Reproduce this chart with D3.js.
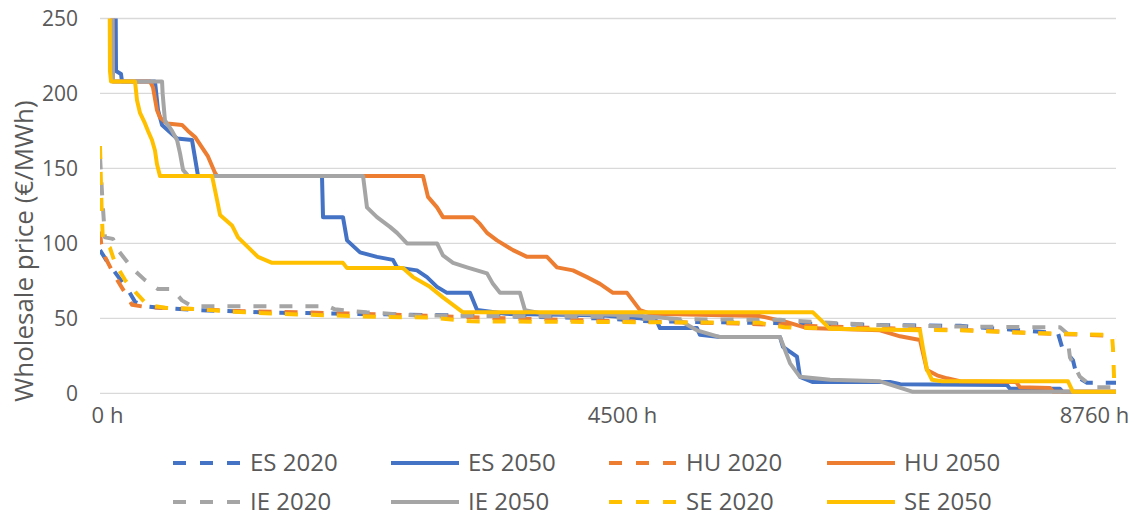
<!DOCTYPE html>
<html>
<head>
<meta charset="utf-8">
<script src="https://cdn.jsdelivr.net/npm/d3@7"></script>
<style>
  html, body { margin: 0; padding: 0; background: #fff; }
  svg { display: block; font-family: "Open Sans", sans-serif; }
</style>
</head>
<body>
<svg id="chart" width="1135" height="517"></svg>
<script>
// Price duration curves: hours of the year (sorted) vs wholesale price (€/MWh)
const seriesNames = ["ES 2020", "ES 2050", "HU 2020", "HU 2050", "IE 2020", "IE 2050", "SE 2020", "SE 2050"];
const seriesColors = ["#4472C4", "#4472C4", "#ED7D31", "#ED7D31", "#A5A5A5", "#A5A5A5", "#FFC000", "#FFC000"];
const seriesDashed = [true, false, true, false, true, false, true, false];
const yTicks = [0, 50, 100, 150, 200, 250];
const xTicks = [0, 4500, 8760];
const xTickLabels = ["0 h", "4500 h", "8760 h"];

const es2020 = [[0,95.5],[69,87],[155,78],[241,69],[302,61],[388,58],[517,57],[862,55.5],[1380,54],[2155,53],[3449,51.5],[4311,50],[4742,48],[5691,47],[6725,45.5],[7415,45],[8105,41],[8260,40],[8294,31],[8389,22],[8424,11],[8510,7],[8760,7]];
const es2050 = [[0,330],[130,330],[138,215],[181,213],[190,208],[474,208],[500,189],[535,179],[664,170],[793,169],[845,145],[1914,145],[1923,117.5],[2095,117.5],[2130,102],[2242,94],[2388,91],[2526,89],[2561,84],[2733,82],[2819,77.5],[2906,71],[2992,67],[3190,67],[3251,55.5],[3500,53],[4311,52],[4656,50],[4802,48],[4828,43.5],[5147,43.5],[5173,39],[5346,37.5],[5863,37.5],[5889,31],[6009,24.5],[6035,11],[6147,7.5],[6811,7.5],[6900,6],[7820,5.5],[7846,3],[8277,3],[8300,1],[8760,1]];
const hu2020 = [[0,108],[10,100],[43,91],[129,78],[216,67],[276,59],[400,57.5],[862,56],[1121,55],[1724,54],[2500,52.5],[3500,50],[4500,48],[5500,46.5],[6500,44],[7500,42],[8105,40],[8683,38.5],[8760,37]];
const hu2050 = [[0,330],[100,330],[112,208],[431,208],[457,204],[491,189],[517,184],[578,180],[707,179],[759,175],[819,171],[879,164],[931,158],[992,147],[1009,145],[2785,145],[2828,131],[2906,124],[2957,117.5],[3216,117.5],[3276,113],[3337,107],[3423,102],[3561,95.5],[3682,91],[3854,91],[3940,84],[4078,82],[4199,77.5],[4311,73],[4423,67],[4544,67],[4656,55.5],[4750,53],[5691,51.5],[5923,47.5],[6096,43.5],[6725,42],[6898,38],[7070,35.5],[7130,15.5],[7217,12],[7303,10],[7415,8],[7900,7.5],[7932,4],[8191,3.5],[8220,1],[8760,1]];
const ie2020 = [[0,158],[20,130],[43,104],[112,103],[155,95.5],[276,83.5],[388,75.5],[500,69.5],[621,69.5],[707,62],[793,58],[1966,58],[2026,56],[2300,54],[2700,52],[4311,51],[4742,49.5],[5863,49],[6294,47],[6725,45.5],[7415,44.5],[8277,44],[8337,40],[8363,24],[8449,11],[8562,4],[8760,4]];
const ie2050 = [[0,330],[100,330],[112,208],[535,208],[540,200],[560,182],[621,175],[664,169],[690,160],[716,149],[760,145],[2268,145],[2302,124],[2388,117.5],[2500,111],[2561,107],[2647,100],[2906,100],[2957,92],[3044,87],[3164,84],[3337,80],[3388,73],[3449,67],[3621,67],[3664,55.5],[3800,53.5],[4600,52],[4975,49.5],[5147,42],[5346,37.5],[5863,37.5],[5950,20],[6035,11],[6294,9],[6725,8],[7010,1],[8760,1]];
const se2020 = [[0,165],[15,120],[25,102],[86,97],[129,87],[216,75.5],[276,70],[371,62],[405,59],[560,57],[862,56],[1121,54.5],[1552,53],[1966,52],[2400,51],[2850,50.5],[3200,48],[4500,47.5],[5691,47],[5900,44],[6500,43],[7415,42],[8105,40],[8725,39],[8734,30],[8745,7],[8760,6]];
const se2050 = [[0,330],[80,330],[86,215],[95,208],[302,208],[319,195.5],[345,187],[388,180],[414,175],[448,169],[474,162],[491,153],[517,145],[966,145],[1009,129],[1035,119],[1138,112],[1190,104],[1276,97.5],[1362,91],[1483,87],[2095,87],[2130,83.5],[2612,83.5],[2699,77.5],[2845,71],[2957,64],[3130,54],[6147,54],[6294,43],[7070,42],[7096,30],[7130,16],[7174,9],[7260,8],[8346,8],[8389,1],[8760,1]];

const seriesData = [es2020, es2050, hu2020, hu2050, ie2020, ie2050, se2020, se2050];

const svg = d3.select("#chart");
const plot = { left: 100, right: 1116, top: 18.5, bottom: 393.3 };
const textColor = "#595959";

const x = d3.scaleLinear().domain([0, 8760]).range([plot.left, plot.right]);
const y = d3.scaleLinear().domain([0, 250]).range([plot.bottom, plot.top]);

// horizontal gridlines
svg.append("g")
  .selectAll("line")
  .data(yTicks)
  .join("line")
  .attr("x1", plot.left).attr("x2", plot.right)
  .attr("y1", d => y(d)).attr("y2", d => y(d))
  .attr("stroke", "#D9D9D9").attr("stroke-width", 1.3);

// y axis labels
const yAxis = svg.append("g")
  .attr("transform", `translate(${plot.left - 22},0)`)
  .call(d3.axisLeft(y).tickValues(yTicks).tickSize(0).tickPadding(0));
yAxis.select(".domain").remove();
yAxis.selectAll("text")
  .attr("fill", textColor)
  .style("font-family", "'Open Sans', sans-serif")
  .style("font-size", "21px");

// x axis labels
const xAxis = svg.append("g")
  .attr("transform", `translate(0,${plot.bottom})`)
  .call(d3.axisBottom(x).tickValues(xTicks).tickFormat((d, i) => xTickLabels[i]).tickSize(0).tickPadding(14));
xAxis.select(".domain").remove();
xAxis.selectAll("text")
  .attr("fill", textColor)
  .style("font-family", "'Open Sans', sans-serif")
  .style("font-size", "22px")
  .attr("dx", (d, i) => i === 0 ? 7 : (i === xTicks.length - 1 ? -22 : 0));

// y axis title
svg.append("text")
  .attr("transform", "translate(33,251) rotate(-90)")
  .attr("text-anchor", "middle")
  .attr("fill", textColor)
  .style("font-size", "26px")
  .text("Wholesale price (€/MWh)");

// clip to plot area
svg.append("defs").append("clipPath").attr("id", "plot-clip")
  .append("rect")
  .attr("x", plot.left).attr("y", plot.top)
  .attr("width", plot.right - plot.left + 4)
  .attr("height", plot.bottom - plot.top + 4);

const line = d3.line().x(d => x(d[0])).y(d => y(d[1]));

svg.append("g")
  .attr("clip-path", "url(#plot-clip)")
  .selectAll("path")
  .data(seriesData)
  .join("path")
  .attr("d", line)
  .attr("fill", "none")
  .attr("stroke", (d, i) => seriesColors[i])
  .attr("stroke-width", 4)
  .attr("stroke-linejoin", "round")
  .attr("stroke-dasharray", (d, i) => seriesDashed[i] ? "13,13" : null);

// legend: 4 columns x 2 rows
const legendX = [173, 391, 609, 827];
const legendY = [463, 502];
const legend = svg.append("g")
  .selectAll("g")
  .data(seriesNames)
  .join("g")
  .attr("transform", (d, i) => `translate(${legendX[i % 4]},${legendY[Math.floor(i / 4)]})`);
legend.append("line")
  .attr("x1", 0).attr("x2", 68)
  .attr("y1", 0).attr("y2", 0)
  .attr("stroke", (d, i) => seriesColors[i])
  .attr("stroke-width", 4)
  .attr("stroke-dasharray", (d, i) => seriesDashed[i] ? "13,14" : null);
legend.append("text")
  .attr("x", 77).attr("y", 0)
  .attr("dy", "0.35em")
  .attr("fill", textColor)
  .style("font-size", "24px")
  .text(d => d);
</script>
</body>
</html>
